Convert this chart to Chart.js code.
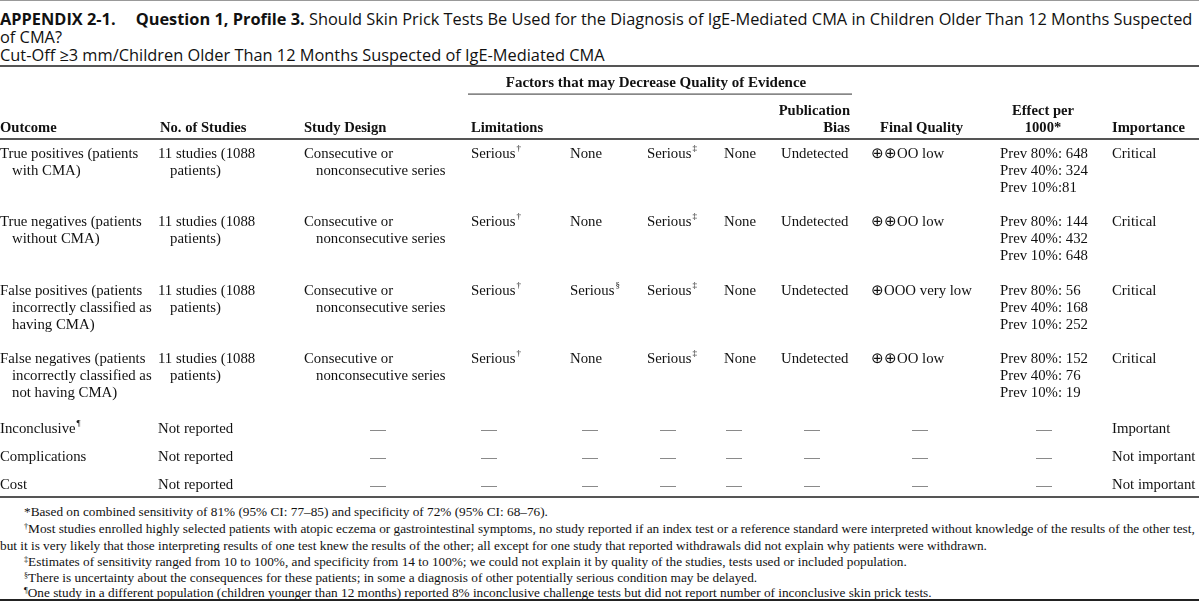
<!DOCTYPE html>
<html>
<head>
<meta charset="utf-8">
<script src="https://cdn.jsdelivr.net/npm/chart.js@4.4.0/dist/chart.umd.min.js"></script>
<style>
body { margin: 0; background: #fff; }
#page { position: relative; width: 1199px; height: 601px; overflow: hidden; background: #fff; }
.rule { position: absolute; left: 0; width: 1199px; }
.tl { position: absolute; left: 0; white-space: nowrap; font-family: "Open Sans", sans-serif; line-height: 18px; color: #111; }
.tl b { font-weight: 700; }
.gap { display: inline-block; width: 20px; }
.fn { position: absolute; white-space: nowrap; font-family: "Liberation Serif", "Times New Roman", serif; line-height: 16px; color: #111; font-size: 12.3px; }
.fn sup { font-size: 0.62em; vertical-align: 0; position: relative; top: -0.45em; }
#tableWrap { position: absolute; left: 0; top: 58px; width: 1199px; height: 444px; }
</style>
</head>
<body>
<div id="page">
  <div class="rule" style="top:0;height:1px;background:#999"></div>
  <div class="tl" id="t1" style="top:10px"><b>APPENDIX 2-1.</b><span class="gap"></span><b>Question 1, Profile 3.</b> Should Skin Prick Tests Be Used for the Diagnosis of IgE-Mediated CMA in Children Older Than 12 Months Suspected</div>
  <div class="tl" id="t2" style="top:28px">of CMA?</div>
  <div class="tl" id="t3" style="top:46px">Cut-Off ≥3 mm/Children Older Than 12 Months Suspected of IgE-Mediated CMA</div>
  <div class="rule" style="top:65px;height:2px;background:#555"></div>
  <div id="tableWrap"><canvas id="tablaChart"></canvas></div>
  <div id="notas"></div>
  <div class="rule" style="top:599px;height:2px;background:#222"></div>
</div>
<script>
// Contenido de la tabla (una entrada por fila)
const outcomes = [
    ['True positives (patients', 'with CMA)'],
    ['True negatives (patients', 'without CMA)'],
    ['False positives (patients', 'incorrectly classified as', 'having CMA)'],
    ['False negatives (patients', 'incorrectly classified as', 'not having CMA)'],
    ['Inconclusive^¶'],
    ['Complications'],
    ['Cost']
];
const studies = [
    ['11 studies (1088', 'patients)'],
    ['11 studies (1088', 'patients)'],
    ['11 studies (1088', 'patients)'],
    ['11 studies (1088', 'patients)'],
    ['Not reported'], ['Not reported'], ['Not reported']
];
const designs = [
    ['Consecutive or', 'nonconsecutive series'],
    ['Consecutive or', 'nonconsecutive series'],
    ['Consecutive or', 'nonconsecutive series'],
    ['Consecutive or', 'nonconsecutive series'],
    null, null, null
];
const limitations = ['Serious^†', 'Serious^†', 'Serious^†', 'Serious^†', null, null, null];
const inconsistency = ['None', 'None', 'Serious^§', 'None', null, null, null];
const indirectness = ['Serious^‡', 'Serious^‡', 'Serious^‡', 'Serious^‡', null, null, null];
const imprecision = ['None', 'None', 'None', 'None', null, null, null];
const pubBias = ['Undetected', 'Undetected', 'Undetected', 'Undetected', null, null, null];
const quality = ['⊕⊕OO low', '⊕⊕OO low', '⊕OOO very low', '⊕⊕OO low', null, null, null];
const effects = [
    ['Prev 80%: 648', 'Prev 40%: 324', 'Prev 10%:81'],
    ['Prev 80%: 144', 'Prev 40%: 432', 'Prev 10%: 648'],
    ['Prev 80%: 56', 'Prev 40%: 168', 'Prev 10%: 252'],
    ['Prev 80%: 152', 'Prev 40%: 76', 'Prev 10%: 19'],
    null, null, null
];
const importance = ['Critical', 'Critical', 'Critical', 'Critical', 'Important', 'Not important', 'Not important'];

const headerLabels = [
    ['Outcome'], ['No. of Studies'], ['Study Design'], ['Limitations'], [], [], [],
    ['Publication', 'Bias'], ['Final Quality'], ['Effect per', '1000*'], ['Importance']
];
const groupHeader = 'Factors that may Decrease Quality of Evidence';

const footnotes = [
    '*Based on combined sensitivity of 81% (95% CI: 77–85) and specificity of 72% (95% CI: 68–76).',
    '<sup>†</sup>Most studies enrolled highly selected patients with atopic eczema or gastrointestinal symptoms, no study reported if an index test or a reference standard were interpreted without knowledge of the results of the other test,',
    'but it is very likely that those interpreting results of one test knew the results of the other; all except for one study that reported withdrawals did not explain why patients were withdrawn.',
    '<sup>‡</sup>Estimates of sensitivity ranged from 10 to 100%, and specificity from 14 to 100%; we could not explain it by quality of the studies, tests used or included population.',
    '<sup>§</sup>There is uncertainty about the consequences for these patients; in some a diagnosis of other potentially serious condition may be delayed.',
    '<sup>¶</sup>One study in a different population (children younger than 12 months) reported 8% inconclusive challenge tests but did not report number of inconclusive skin prick tests.'
];

// Maquetación (posiciones en px de la imagen)
const colX = [0, 158, 304, 471, 570, 647, 724, 781, 871, 1000, 1112];
const dashX = [null, null, 378, 489, 590, 668, 734, 812, 920, 1044, null];
const headX = [0, 160, 304, 471, 0, 0, 0, 850, 880, 1043, 1112];
const headAlign = ['left', 'left', 'left', 'left', 'left', 'left', 'left', 'right', 'left', 'center', 'left'];
const rowTop = [154, 222, 291, 359, 429, 457, 485];
const lineGap = 17;
const indent = 12;

const bodyFont = '14.8px "Liberation Serif", "Times New Roman", serif';
const boldFont = 'bold 14.6px "Liberation Serif", "Times New Roman", serif';
const groupFont = 'bold 15px "Liberation Serif", "Times New Roman", serif';
const supFont = '9px "Liberation Serif", "Times New Roman", serif';

function dibujarTexto(c, txt, x, y) {
    const partes = txt.split('^');
    c.textAlign = 'left';
    c.font = bodyFont;
    c.fillText(partes[0], x, y);
    if (partes[1]) {
        const w0 = c.measureText(partes[0]).width;
        c.font = supFont;
        c.fillText(partes[1], x + w0 + 1, y - 5);
    }
}

const tablaPlugin = {
    id: 'tabla',
    afterDraw(chart) {
        const c = chart.ctx;
        const sx = chart.scales.x, sy = chart.scales.y;
        const px = v => sx.getPixelForValue(v);
        const py = v => sy.getPixelForValue(v);
        c.save();
        c.textBaseline = 'middle';

        // Reglas horizontales
        c.fillStyle = '#555';
        [139, 497].forEach(y => c.fillRect(px(0), py(y) - 1, px(1199) - px(0), 2));
        c.fillRect(px(468), py(94) - 0.5, px(852) - px(468), 1.2);

        // Encabezados
        c.fillStyle = '#111';
        c.font = groupFont;
        c.textAlign = 'center';
        c.fillText(groupHeader, px(656), py(83));
        c.font = boldFont;
        headerLabels.forEach((lab, i) => {
            c.textAlign = headAlign[i];
            lab.forEach((t, k) => {
                const y = 128 - (lab.length - 1 - k) * lineGap;
                c.fillText(t, px(headX[i]), py(y));
            });
        });

        // Celdas
        const columnas = [outcomes, studies, designs, limitations, inconsistency, indirectness,
            imprecision, pubBias, quality, effects, importance];
        columnas.forEach((col, ci) => {
            col.forEach((cell, ri) => {
                const y0 = rowTop[ri];
                if (cell === null) {
                    // guion largo de celda vacía
                    c.fillStyle = '#8a8a8a';
                    c.fillRect(Math.round(px(dashX[ci] - 8)), Math.round(py(y0 + 1)), 16, 1);
                    return;
                }
                c.fillStyle = '#111';
                const lineas = Array.isArray(cell) ? cell : [cell];
                lineas.forEach((t, k) => {
                    const sangria = (k > 0 && ci < 3) ? indent : 0;
                    dibujarTexto(c, t, px(colX[ci] + sangria), py(y0 + k * lineGap));
                });
            });
        });
        c.restore();
    }
};

function ajustarAncho(el, objetivo) {
    el.style.display = 'inline-block';
    const base = parseFloat(getComputedStyle(el).fontSize);
    const w = el.getBoundingClientRect().width;
    return base * objetivo / w;
}

function iniciar() {
    // Título: ajustar el tamaño para que la primera línea llene el ancho
    const t1 = document.getElementById('t1');
    t1.style.fontSize = '15px';
    const fs = ajustarAncho(t1, 1195);
    ['t1', 't2', 't3'].forEach(id => document.getElementById(id).style.fontSize = fs + 'px');

    // Notas al pie
    const notas = document.getElementById('notas');
    const notaY = [504, 521, 538, 554, 570, 585];
    footnotes.forEach((txt, i) => {
        const d = document.createElement('div');
        d.className = 'fn';
        d.innerHTML = txt;
        d.style.left = (i === 2 ? 0 : 24) + 'px';
        d.style.top = notaY[i] + 'px';
        notas.appendChild(d);
    });
    const largo = notas.children[1];
    const fsn = ajustarAncho(largo, 1195 - 24);
    Array.from(notas.children).forEach(d => d.style.fontSize = fsn + 'px');

    const ctx = document.getElementById('tablaChart').getContext('2d');
    new Chart(ctx, {
        type: 'scatter',
        data: { datasets: [{ data: [], pointRadius: 0 }] },
        options: {
            responsive: true,
            maintainAspectRatio: false,
            animation: false,
            events: [],
            layout: { padding: 0 },
            plugins: { legend: { display: false }, tooltip: { enabled: false } },
            scales: {
                x: { type: 'linear', display: false, min: 0, max: 1199 },
                y: { type: 'linear', display: false, min: 58, max: 502, reverse: true }
            }
        },
        plugins: [tablaPlugin]
    });
}

document.addEventListener('DOMContentLoaded', iniciar);
</script>
</body>
</html>
